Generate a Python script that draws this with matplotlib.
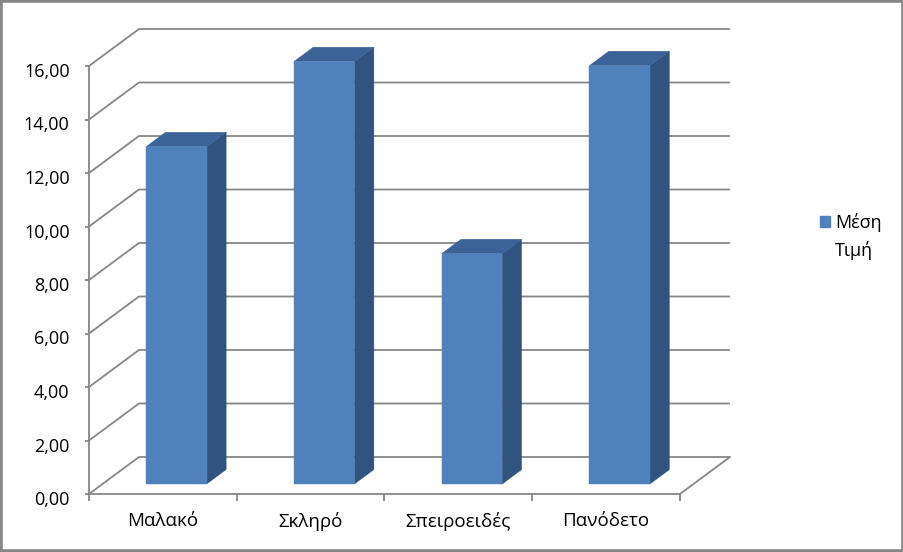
import matplotlib
matplotlib.use('Agg')
import matplotlib.pyplot as plt
from matplotlib.patches import Polygon, Patch, Rectangle
from matplotlib.transforms import ScaledTranslation

categories = ['Μαλακό', 'Σκληρό', 'Σπειροειδές', 'Πανόδετο']
values = [12.61, 15.79, 8.61, 15.64]
yticks = [0, 2, 4, 6, 8, 10, 12, 14, 16]
ytick_labels = ['0,00', '2,00', '4,00', '6,00', '8,00', '10,00', '12,00', '14,00', '16,00']
series_name = 'Μέση Τιμή'

plt.rcParams['font.family'] = ['Open Sans', 'DejaVu Sans']

FRONT = '#4F81BD'
TOP = '#3B6398'
SIDE = '#30537F'
GRID = '#868686'

fig = plt.figure(figsize=(9.04, 5.52), dpi=100)
fig.patch.set_facecolor('white')
ax = fig.add_axes([89 / 904, 58 / 552, 591 / 904, 428 / 552])
ax.set_xlim(0, len(categories))
ax.set_ylim(0, 16)
ax.patch.set_visible(False)

# oblique depth offsets (data units for full depth)
DX = 0.338
DY = 1.383
n = len(categories)

# back wall / side wall gridlines
for v in yticks:
    ax.plot([0, DX, n + DX], [v, v + DY, v + DY], color=GRID, lw=1.3,
            clip_on=False, zorder=1, solid_capstyle='butt')
# floor right edge
ax.plot([n, n + DX], [0, DY], color=GRID, lw=1.3, clip_on=False, zorder=1)

# bars
w = 0.41
d0, d1 = 0.27, 0.66
for i, v in enumerate(values):
    x0 = i + 0.5 - w / 2
    x1 = i + 0.5 + w / 2
    front = [(x0 + d0 * DX, d0 * DY), (x1 + d0 * DX, d0 * DY),
             (x1 + d0 * DX, v + d0 * DY), (x0 + d0 * DX, v + d0 * DY)]
    side = [(x1 + d0 * DX, d0 * DY), (x1 + d1 * DX, d1 * DY),
            (x1 + d1 * DX, v + d1 * DY), (x1 + d0 * DX, v + d0 * DY)]
    top = [(x0 + d0 * DX, v + d0 * DY), (x1 + d0 * DX, v + d0 * DY),
           (x1 + d1 * DX, v + d1 * DY), (x0 + d1 * DX, v + d1 * DY)]
    for pts, col in ((side, SIDE), (top, TOP), (front, FRONT)):
        ax.add_patch(Polygon(pts, closed=True, facecolor=col, edgecolor=col,
                             lw=0.3, clip_on=False, zorder=3))

# axes styling
for s in ('top', 'right'):
    ax.spines[s].set_visible(False)
for s in ('left', 'bottom'):
    ax.spines[s].set_color(GRID)
    ax.spines[s].set_linewidth(1.3)

ax.set_yticks(yticks, ytick_labels)
ax.tick_params(axis='y', length=3, width=1.3, color=GRID, pad=11,
               labelsize=13, labelcolor='black')
shift = ScaledTranslation(0, -4 / 100, fig.dpi_scale_trans)
for lab in ax.get_yticklabels():
    lab.set_transform(lab.get_transform() + shift)

ax.set_xticks(range(n + 1))
ax.set_xticklabels([])
ax.set_xticks([i + 0.5 for i in range(n)], categories, minor=True)
ax.tick_params(axis='x', which='major', length=5, width=1.3, color=GRID)
ax.tick_params(axis='x', which='minor', length=0, pad=13, labelsize=13.5,
               labelcolor='black')

# legend
parts = series_name.split()
handles = [Patch(facecolor=FRONT, edgecolor=FRONT),
           Patch(facecolor='none', edgecolor='none')]
fig.legend(handles=handles, labels=parts, loc='upper left',
           bbox_to_anchor=(820 / 904, 1 - 213 / 552), frameon=False,
           fontsize=13, handlelength=0.55, handleheight=0.55,
           handletextpad=0.3, labelspacing=0.5, borderaxespad=0,
           borderpad=0)

# outer border
fig.add_artist(Rectangle((0, 0), 1, 1, transform=fig.transFigure, fill=False,
                         edgecolor=GRID, lw=4))

fig.savefig('out.png', dpi=100)
